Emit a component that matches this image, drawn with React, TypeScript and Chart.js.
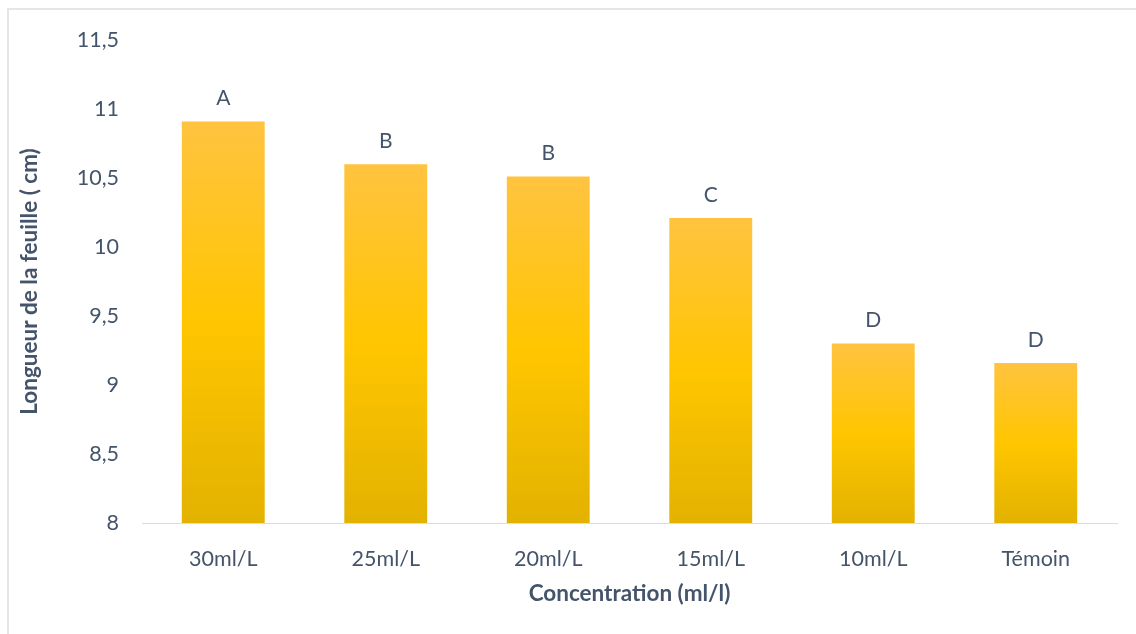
import React, { useEffect, useRef } from "react";
import { Chart, registerables } from "chart.js";

Chart.register(...registerables);

const categories = ["30ml/L", "25ml/L", "20ml/L", "15ml/L", "10ml/L", "Témoin"];
const values = [10.91, 10.6, 10.51, 10.21, 9.3, 9.16];
const groupLetters = ["A", "B", "B", "C", "D", "D"];
const yTickValues = [8, 8.5, 9, 9.5, 10, 10.5, 11, 11.5];

const TEXT = "#44546A";
const FONT = "Lato, 'Open Sans', sans-serif";

const letterPlugin = {
  id: "letters",
  afterDatasetsDraw(chart: any) {
    const ctx = chart.ctx;
    const meta = chart.getDatasetMeta(0);
    ctx.save();
    ctx.fillStyle = TEXT;
    ctx.font = `21px ${FONT}`;
    ctx.textAlign = "center";
    ctx.textBaseline = "middle";
    meta.data.forEach((bar: any, i: number) => {
      ctx.fillText(groupLetters[i], bar.x, bar.y - 23);
    });
    ctx.restore();
  },
};

export default function App() {
  const ref = useRef<HTMLCanvasElement>(null);
  useEffect(() => {
    document.body.style.margin = "0";
    const canvas = ref.current!;
    const chart = new Chart(canvas, {
      type: "bar",
      data: {
        labels: categories,
        datasets: [
          {
            data: values,
            backgroundColor: (c: any) => {
              const ch = c.chart;
              const ys = ch.scales?.y;
              if (!ys || c.dataIndex === undefined) return "#FFC600";
              const v = values[c.dataIndex];
              const top = ys.getPixelForValue(v);
              const bottom = ys.getPixelForValue(8);
              if (!isFinite(top) || !isFinite(bottom)) return "#FFC600";
              const g = ch.ctx.createLinearGradient(0, top, 0, bottom);
              g.addColorStop(0, "#FFC340");
              g.addColorStop(0.5, "#FFC600");
              g.addColorStop(1, "#E3B200");
              return g;
            },
            borderWidth: 0,
            categoryPercentage: 0.51,
            barPercentage: 1,
          },
        ],
      },
      options: {
        animation: false,
        responsive: false,
        maintainAspectRatio: false,
        layout: { padding: { top: 40, right: 19, bottom: 0, left: 0 } },
        plugins: { legend: { display: false }, tooltip: { enabled: false } },
        scales: {
          x: {
            grid: { display: false },
            border: { display: true, color: "#D9DDE3", width: 1 },
            ticks: { color: TEXT, font: { family: FONT, size: 21.5 }, padding: 15 },
            title: {
              display: true,
              text: "Concentration (ml/l)",
              color: TEXT,
              font: { family: FONT, size: 22.5, weight: "bold" },
              padding: { top: 0, bottom: 27 },
            },
            afterFit: (s: any) => {
              s.height = 111;
            },
          },
          y: {
            min: 8,
            max: 11.5,
            afterBuildTicks: (s: any) => {
              s.ticks = yTickValues.map((v) => ({ value: v }));
            },
            grid: { display: false },
            border: { display: false },
            ticks: {
              color: TEXT,
              font: { family: FONT, size: 21.5 },
              padding: 15,
              callback: (v: any) => String(v).replace(".", ","),
            },
            title: {
              display: true,
              text: "Longueur de la feuille ( cm)",
              color: TEXT,
              font: { family: FONT, size: 22.5, weight: "bold" },
              padding: { top: 16, bottom: 0 },
            },
            afterFit: (s: any) => {
              s.width = 142;
            },
          },
        },
      },
      plugins: [letterPlugin],
    });
    return () => chart.destroy();
  }, []);
  return (
    <div style={{ position: "relative", width: 1136, height: 634, overflow: "hidden" }}>
      <canvas ref={ref} width={1136} height={634} style={{ display: "block" }} />
      <div
        style={{
          position: "absolute",
          left: 7,
          top: 8,
          width: 1140,
          height: 640,
          borderTop: "2px solid #E3E6EA",
          borderLeft: "2px solid #E3E6EA",
          pointerEvents: "none",
        }}
      />
    </div>
  );
}
